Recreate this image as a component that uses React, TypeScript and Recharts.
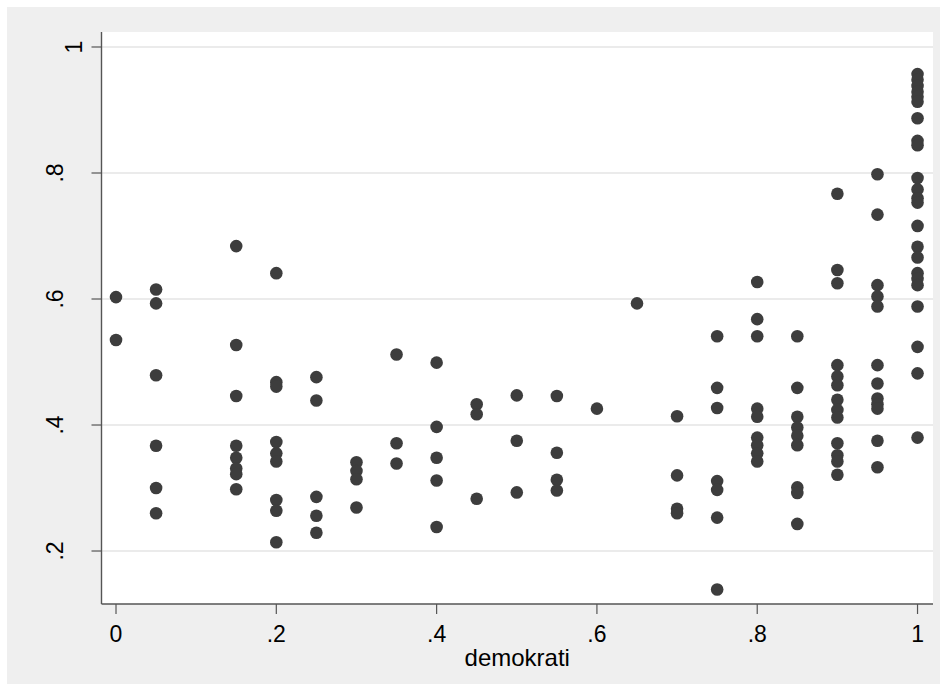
import React from "react"
import { ScatterChart, Scatter, XAxis, YAxis, CartesianGrid, Label } from "recharts"

// democracy levels on the x axis
const demokrati = [0, 0.05, 0.15, 0.2, 0.25, 0.3, 0.35, 0.4, 0.45, 0.5, 0.55, 0.6, 0.65, 0.7, 0.75, 0.8, 0.85, 0.9, 0.95, 1]

// y values read for every democracy level
const at000 = [0.603, 0.535]
const at005 = [0.615, 0.593, 0.479, 0.367, 0.3, 0.26]
const at015 = [0.684, 0.527, 0.446, 0.367, 0.348, 0.331, 0.322, 0.298]
const at020 = [0.641, 0.468, 0.461, 0.373, 0.355, 0.342, 0.281, 0.264, 0.214]
const at025 = [0.476, 0.439, 0.286, 0.256, 0.229]
const at030 = [0.341, 0.327, 0.314, 0.269]
const at035 = [0.512, 0.371, 0.339]
const at040 = [0.499, 0.397, 0.348, 0.312, 0.238]
const at045 = [0.433, 0.417, 0.283]
const at050 = [0.447, 0.375, 0.293]
const at055 = [0.446, 0.356, 0.313, 0.296]
const at060 = [0.426]
const at065 = [0.593]
const at070 = [0.414, 0.32, 0.267, 0.26]
const at075 = [0.541, 0.459, 0.427, 0.311, 0.297, 0.253, 0.139]
const at080 = [0.627, 0.568, 0.541, 0.426, 0.413, 0.38, 0.368, 0.355, 0.342]
const at085 = [0.541, 0.459, 0.413, 0.396, 0.383, 0.368, 0.301, 0.292, 0.243]
const at090 = [0.767, 0.646, 0.625, 0.495, 0.477, 0.463, 0.44, 0.424, 0.412, 0.371, 0.352, 0.342, 0.321]
const at095 = [0.798, 0.734, 0.622, 0.604, 0.588, 0.495, 0.466, 0.442, 0.433, 0.426, 0.375, 0.333]
const at100 = [
  0.957, 0.948, 0.938, 0.929, 0.921, 0.913, 0.887, 0.851, 0.844, 0.792, 0.774, 0.76, 0.753,
  0.716, 0.683, 0.666, 0.641, 0.632, 0.622, 0.588, 0.524, 0.482, 0.38,
]

const columns = [at000, at005, at015, at020, at025, at030, at035, at040, at045, at050, at055, at060, at065, at070, at075, at080, at085, at090, at095, at100]

const xTicks = [0, 0.2, 0.4, 0.6, 0.8, 1]
const yTicks = [0.2, 0.4, 0.6, 0.8, 1]

const points = demokrati.flatMap((x, i) => columns[i].map((y) => ({ x, y })))

const FONT = "'Liberation Sans', Arial, Helvetica, sans-serif"

// stata style: drop the leading zero
const fmt = (v: number) => (v === 0 ? "0" : v === 1 ? "1" : String(v).replace(/^0/, ""))

const XTick = (props: any) => {
  const { x, y, payload } = props
  return (
    <text x={x} y={y + 28} textAnchor="middle" fontSize={23} fontFamily={FONT} fill="#000">
      {fmt(payload.value)}
    </text>
  )
}

const YTick = (props: any) => {
  const { x, y, payload } = props
  const label = fmt(payload.value)
  const bx = label.length === 1 ? x - 9 : x - 28
  return (
    <text
      x={bx}
      y={y}
      transform={`rotate(-90 ${bx} ${y})`}
      textAnchor="middle"
      fontSize={23}
      fontFamily={FONT}
      fill="#000"
    >
      {label}
    </text>
  )
}

const Dot = (props: any) => <circle cx={props.cx} cy={props.cy} r={6.3} fill="#3d3d3d" />

export default function App() {
  return (
    <div style={{ position: "absolute", left: 0, top: 0, width: 946, height: 691, background: "#fff" }}>
      <div style={{ position: "absolute", left: 7, top: 7, width: 933, height: 677, background: "#efefef" }} />
      <div style={{ position: "absolute", left: 0, top: 0 }}>
        <ScatterChart width={946} height={691} margin={{ top: 32, right: 13, left: 0, bottom: 0 }}>
          <CartesianGrid vertical={false} fill="#fff" stroke="#e4e4e4" strokeWidth={1.6} horizontalValues={yTicks} />
          <XAxis
            type="number"
            dataKey="x"
            domain={[-0.0181, 1.0193]}
            allowDataOverflow
            ticks={xTicks}
            height={87}
            tickSize={10}
            tickMargin={0}
            tick={<XTick />}
            axisLine={{ stroke: "#555", strokeWidth: 1.4 }}
            tickLine={{ stroke: "#555", strokeWidth: 1.2 }}
          >
            <Label
              content={(p: any) => {
                const vb = p.viewBox
                return (
                  <text x={vb.x + vb.width / 2} y={vb.y + 62} textAnchor="middle" fontSize={24} fontFamily={FONT} fill="#000">
                    demokrati
                  </text>
                )
              }}
            />
          </XAxis>
          <YAxis
            type="number"
            dataKey="y"
            domain={[0.1159, 1.0238]}
            allowDataOverflow
            ticks={yTicks}
            width={101.5}
            tickSize={10}
            tickMargin={0}
            tick={<YTick />}
            axisLine={{ stroke: "#555", strokeWidth: 1.4 }}
            tickLine={{ stroke: "#555", strokeWidth: 1.2 }}
          />
          <Scatter data={points} shape={<Dot />} isAnimationActive={false} />
        </ScatterChart>
      </div>
    </div>
  )
}
